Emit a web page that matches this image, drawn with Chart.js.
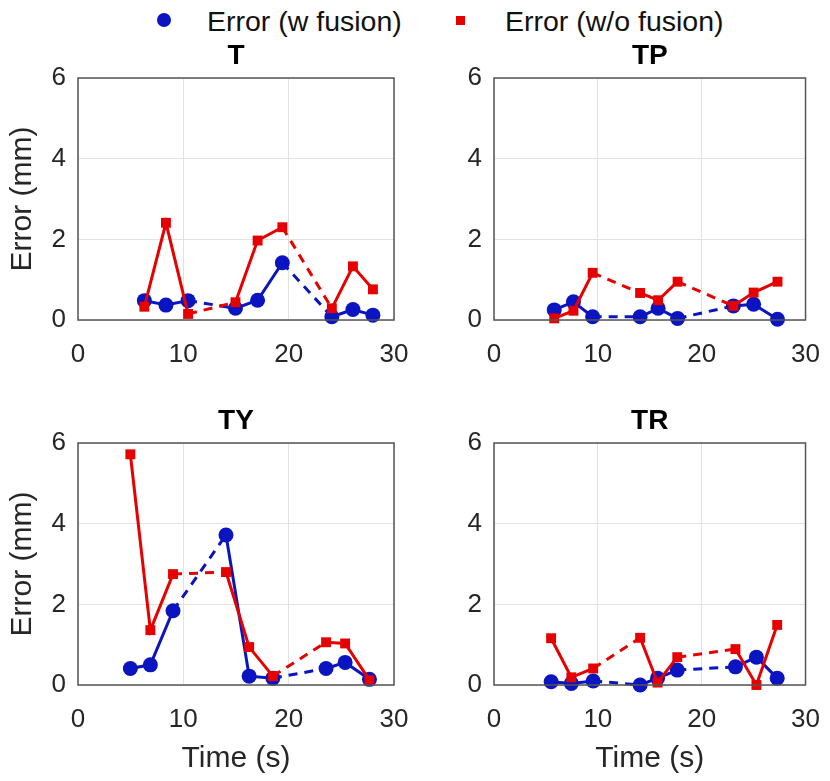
<!DOCTYPE html>
<html>
<head>
<meta charset="utf-8">
<script src="https://cdn.jsdelivr.net/npm/chart.js@4.4.1/dist/chart.umd.min.js"></script>
<style>
  body { margin: 0; background: #fff; }
  #page { position: relative; width: 830px; height: 781px; overflow: hidden; font-family: "Liberation Sans", Arial, sans-serif; }
  canvas { position: absolute; }
  .lg { position: absolute; font-size: 28.5px; line-height: 28px; color: #111; white-space: nowrap; }
  .dot { position: absolute; width: 14px; height: 14px; border-radius: 50%; background: #0a14c0; }
  .sq { position: absolute; width: 9px; height: 9px; background: #e60000; }
</style>
</head>
<body>
<div id="page">
  <div class="dot" style="left:157px;top:13px"></div>
  <div class="lg" style="left:207px;top:7px">Error (w fusion)</div>
  <div class="sq" style="left:456px;top:16px"></div>
  <div class="lg" style="left:505px;top:7px">Error (w/o fusion)</div>
  <canvas id="c0"></canvas>
  <canvas id="c1"></canvas>
  <canvas id="c2"></canvas>
  <canvas id="c3"></canvas>
</div>
<script>
// panel titles
const titles = ['T', 'TP', 'TY', 'TR'];

// sample times (s), one list per panel
const timeT  = [6.3, 8.35, 10.45, 14.95, 17.05, 19.4, 24.1, 26.1, 28.0];
const timeTP = [5.8, 7.65, 9.5, 14.07, 15.8, 17.68, 23.05, 25.0, 27.3];
const timeTY = [4.97, 6.87, 9.02, 14.05, 16.25, 18.5, 23.55, 25.36, 27.67];
const timeTR = [5.5, 7.45, 9.55, 14.07, 15.75, 17.65, 23.25, 25.27, 27.27];

// error with fusion (mm)
const withT  = [0.48, 0.37, 0.48, 0.29, 0.49, 1.42, 0.08, 0.26, 0.12];
const withTP = [0.25, 0.45, 0.08, 0.08, 0.29, 0.04, 0.35, 0.39, 0.02];
const withTY = [0.41, 0.50, 1.84, 3.72, 0.22, 0.17, 0.41, 0.56, 0.14];
const withTR = [0.08, 0.04, 0.10, 0.00, 0.17, 0.37, 0.45, 0.69, 0.17];

// error without fusion (mm)
const woT  = [0.33, 2.41, 0.15, 0.44, 1.97, 2.30, 0.29, 1.33, 0.76];
const woTP = [0.04, 0.23, 1.17, 0.67, 0.49, 0.95, 0.35, 0.68, 0.95];
const woTY = [5.72, 1.36, 2.75, 2.80, 0.94, 0.22, 1.06, 1.03, 0.12];
const woTR = [1.16, 0.19, 0.41, 1.17, 0.06, 0.69, 0.89, 0.00, 1.49];

// points after which the trial ends (drawn dashed to the next one)
const gapAfter = [2, 5];

const xTicks = [0, 10, 20, 30];
const yTicks = [0, 2, 4, 6];

const BLUE = '#0a14c0';
const RED = '#e60000';

const times = [timeT, timeTP, timeTY, timeTR];
const withF = [withT, withTP, withTY, withTR];
const woF = [woT, woTP, woTY, woTR];

// axes box like matlab
const boxPlugin = {
  id: 'box',
  afterDraw(chart) {
    const a = chart.chartArea, c = chart.ctx;
    c.save();
    c.strokeStyle = '#555';
    c.lineWidth = 1.5;
    c.strokeRect(a.left, a.top, a.right - a.left, a.bottom - a.top);
    c.restore();
  }
};

function pts(xs, ys) {
  return xs.map((x, i) => ({ x: x, y: ys[i] }));
}

function series(label, data, color, style, radius, order) {
  return {
    label, data, order,
    borderColor: color,
    backgroundColor: color,
    borderWidth: 3,
    pointStyle: style,
    pointRadius: radius,
    pointHoverRadius: radius,
    pointBorderWidth: 0,
    clip: false,
    segment: {
      borderDash: ctx => gapAfter.includes(ctx.p0DataIndex) ? [9, 7] : undefined
    }
  };
}

function panel(i) {
  const leftCol = i % 2 === 0;
  const bottomRow = i >= 2;
  const cv = document.getElementById('c' + i);
  const left = leftCol ? 0 : 420;
  const top = bottomRow ? 395 : 30;
  const w = leftCol ? 420 : 410;
  const xAxisH = bottomRow ? 96 : 60;
  const h = 48 + 242 + xAxisH;
  cv.width = w; cv.height = h;
  cv.style.left = left + 'px'; cv.style.top = top + 'px';

  new Chart(cv, {
    type: 'line',
    data: {
      datasets: [
        series('Error (w fusion)', pts(times[i], withF[i]), BLUE, 'circle', 7.5, 1),
        series('Error (w/o fusion)', pts(times[i], woF[i]), RED, 'rect', 7, 0)
      ]
    },
    options: {
      responsive: false,
      animation: false,
      layout: { padding: { left: 0, right: leftCol ? 26 : 21, top: 0, bottom: 0 } },
      plugins: {
        legend: { display: false },
        tooltip: { enabled: false },
        title: {
          display: true, text: titles[i], fullSize: false,
          color: '#000', font: { family: 'Liberation Sans', size: 28, weight: 'bold', lineHeight: 1 },
          padding: { top: 12, bottom: 8 }
        }
      },
      scales: {
        x: {
          type: 'linear', min: 0, max: 30,
          afterBuildTicks: s => { s.ticks = xTicks.map(v => ({ value: v })); },
          afterFit: s => { s.height = xAxisH; },
          grid: { color: '#e2e2e2', drawTicks: true, tickLength: 9, tickColor: 'rgba(0,0,0,0)' },
          border: { display: false },
          ticks: { color: '#262626', padding: 10, font: { family: 'Liberation Sans', size: 26 } },
          title: {
            display: bottomRow, text: 'Time (s)', color: '#262626',
            font: { family: 'Liberation Sans', size: 30, lineHeight: 1 },
            padding: { top: 0, bottom: 7 }
          }
        },
        y: {
          type: 'linear', min: 0, max: 6,
          afterBuildTicks: s => { s.ticks = yTicks.map(v => ({ value: v })); },
          afterFit: s => { s.width = leftCol ? 78 : 74; },
          grid: { color: '#e2e2e2', drawTicks: false },
          border: { display: false },
          ticks: { color: '#262626', padding: 12, font: { family: 'Liberation Sans', size: 26 } },
          title: {
            display: leftCol, text: 'Error (mm)', color: '#262626',
            font: { family: 'Liberation Sans', size: 30, lineHeight: 1 },
            padding: { top: 8, bottom: 0 }
          }
        }
      }
    },
    plugins: [boxPlugin]
  });
}

[0, 1, 2, 3].forEach(panel);
</script>
</body>
</html>
